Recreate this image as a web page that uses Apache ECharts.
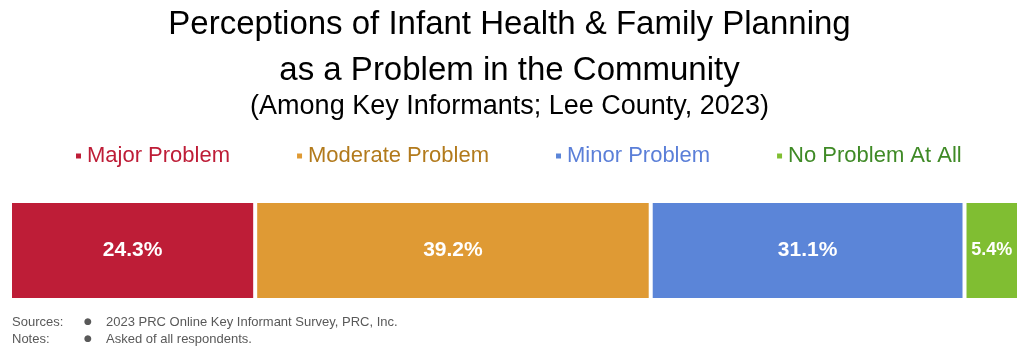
<!DOCTYPE html>
<html>
<head>
<meta charset="utf-8">
<script src="https://cdn.jsdelivr.net/npm/echarts@6/dist/echarts.min.js"></script>
<style>
  html, body { margin: 0; padding: 0; background: #fff; }
  #chart { width: 1019px; height: 349px; }
</style>
</head>
<body>
<div id="chart"></div>
<script>
// Datos del gráfico
const categorias = ["Key Informants"];
const series = ["Major Problem", "Moderate Problem", "Minor Problem", "No Problem At All"];
const valores = [24.3, 39.2, 31.1, 5.4];
const colores = ["#be1d37", "#df9a34", "#5b85d8", "#80be32"];
const coloresTexto = ["#be1d37", "#b27a1c", "#5b7fd8", "#3f8a26"];

var myChart = echarts.init(document.getElementById("chart"));

var option = {
  animation: false,
  title: [
    {
      text: "Perceptions of Infant Health & Family Planning\nas a Problem in the Community",
      left: "center",
      top: -3,
      textStyle: {
        fontFamily: "Liberation Sans, Arial, sans-serif",
        fontSize: 33,
        fontWeight: "normal",
        color: "#000",
        lineHeight: 46,
      },
    },
    {
      text: "(Among Key Informants; Lee County, 2023)",
      left: "center",
      top: 88,
      textStyle: {
        fontFamily: "Liberation Sans, Arial, sans-serif",
        fontSize: 27,
        fontWeight: "normal",
        color: "#000",
      },
    },
  ],
  legend: {
    top: 140,
    left: 69,
    itemWidth: 7,
    itemHeight: 7,
    itemGap: 65,
    icon: "rect",
    selectedMode: false,
    textStyle: { fontFamily: "Liberation Sans, Arial, sans-serif", fontSize: 22 },
    data: series.map((s, i) => ({ name: s, textStyle: { color: coloresTexto[i] } })),
  },
  grid: { left: 10, right: 0, top: 201, bottom: 49 },
  xAxis: { type: "value", min: 0, max: 100, show: false },
  yAxis: { type: "category", data: categorias, show: false },
  series: series.map((s, i) => ({
    name: s,
    type: "bar",
    stack: "total",
    barWidth: "100%",
    data: [valores[i]],
    itemStyle: { color: colores[i], borderColor: "#fff", borderWidth: 2 },
    label: {
      show: true,
      position: "inside",
      formatter: (p) => p.value.toFixed(1) + "%",
      color: "#fff",
      fontFamily: "Liberation Sans, Arial, sans-serif",
      fontWeight: "bold",
      fontSize: valores[i] < 10 ? 18 : 21,
    },
  })),
  graphic: [
    { type: "text", left: 12, top: 316, style: { text: "Sources:", font: "13px Liberation Sans, Arial", fill: "#595959" } },
    { type: "text", left: 12, top: 333, style: { text: "Notes:", font: "13px Liberation Sans, Arial", fill: "#595959" } },
    { type: "text", left: 84, top: 317, style: { text: "●", font: "9px DejaVu Sans", fill: "#595959" } },
    { type: "text", left: 84, top: 334, style: { text: "●", font: "9px DejaVu Sans", fill: "#595959" } },
    { type: "text", left: 106, top: 316, style: { text: "2023 PRC Online Key Informant Survey, PRC, Inc.", font: "13px Liberation Sans, Arial", fill: "#595959" } },
    { type: "text", left: 106, top: 333, style: { text: "Asked of all respondents.", font: "13px Liberation Sans, Arial", fill: "#595959" } },
  ],
};

myChart.setOption(option);
</script>
</body>
</html>
